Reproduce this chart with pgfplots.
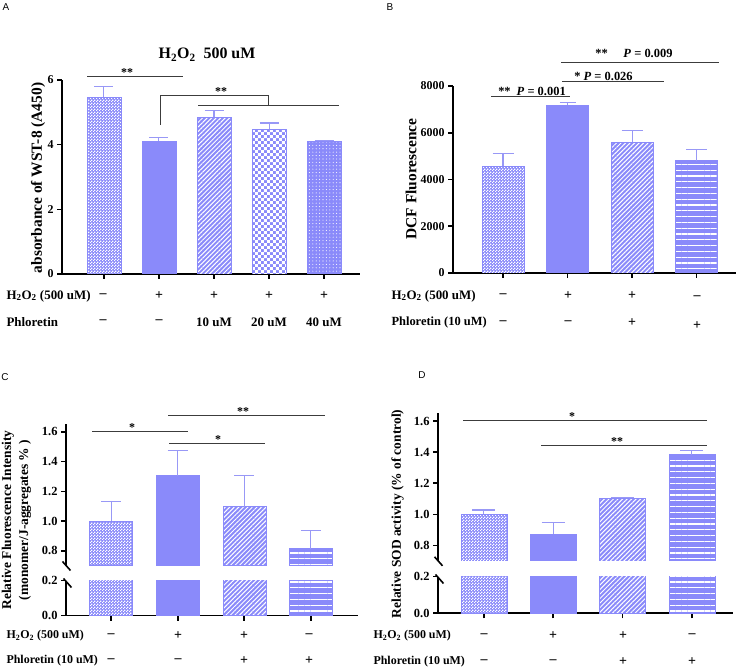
\documentclass[border=0pt]{standalone}
\usepackage{fontspec}
\setmainfont{Liberation Serif}
\newfontfamily\arial{Liberation Sans}
\usepackage{pgfplots}
\pgfplotsset{compat=1.18}
\usetikzlibrary{patterns,patterns.meta}

\definecolor{barblue}{RGB}{138,138,250}
\definecolor{errblue}{RGB}{152,152,246}
\definecolor{sig}{RGB}{60,60,60}

% bar fill patterns
\pgfdeclarepatternformonly{finecheck}{\pgfqpoint{0bp}{0bp}}{\pgfqpoint{3bp}{3bp}}{\pgfqpoint{3bp}{3bp}}{%
  \pgfpathrectangle{\pgfqpoint{0bp}{0bp}}{\pgfqpoint{1.5bp}{1.5bp}}%
  \pgfpathrectangle{\pgfqpoint{1.5bp}{1.5bp}}{\pgfqpoint{1.5bp}{1.5bp}}%
  \pgfusepath{fill}}
\pgfdeclarepatternformonly{bigcheck}{\pgfqpoint{0bp}{0bp}}{\pgfqpoint{6.4bp}{6.4bp}}{\pgfqpoint{6.4bp}{6.4bp}}{%
  \pgfpathrectangle{\pgfqpoint{0bp}{0bp}}{\pgfqpoint{3.2bp}{3.2bp}}%
  \pgfpathrectangle{\pgfqpoint{3.2bp}{3.2bp}}{\pgfqpoint{3.2bp}{3.2bp}}%
  \pgfusepath{fill}}
\pgfdeclarepatternformonly{wdots}{\pgfqpoint{-1bp}{-1bp}}{\pgfqpoint{1bp}{1bp}}{\pgfqpoint{3.4bp}{3.4bp}}{%
  \pgfpathcircle{\pgfqpoint{0bp}{0bp}}{0.55bp}%
  \pgfusepath{fill}}

\newcommand{\hh}{H\textsubscript{2}O\textsubscript{2}}
\newcommand{\fs}[1]{\bfseries\fontsize{#1}{#1}\selectfont}

\pgfplotsset{
  panel/.style={scale only axis, anchor=south west,
    axis line style={line width=1.6bp, black},
    tick style={line width=1.6bp, black},
    tick align=outside, major tick length=5bp,
    /pgf/number format/assume math mode=true,
    yticklabel style={font=\fs{12}},
    scaled y ticks=false, xticklabels={}},
  bbar/.style={ybar, bar shift=0pt, draw=barblue, fill=barblue, line width=0.5bp},
  pcheck/.style={bbar, postaction={pattern=finecheck, pattern color=white}},
  psolid/.style={bbar},
  pdiag/.style={bbar, postaction={pattern={Lines[angle=45,distance=3.2bp,line width=1bp]}, pattern color=white}},
  pbig/.style={bbar, postaction={pattern=bigcheck, pattern color=white}},
  pdots/.style={bbar, postaction={pattern=wdots, pattern color=white}},
  phor/.style={bbar, postaction={pattern={Lines[angle=0,distance=5.8bp,line width=1.1bp]}, pattern color=white}},
  eb/.style={error bars/y dir=plus, error bars/y explicit,
    error bars/error bar style={line width=1.1bp, color=errblue},
    error bars/error mark options={rotate=90, line width=1.1bp, color=errblue, mark size=#1}},
  onedec/.style={yticklabel style={/pgf/number format/fixed, /pgf/number format/fixed zerofill, /pgf/number format/precision=1}},
}

\begin{document}
\begin{tikzpicture}[x=1bp, y=1bp]
\useasboundingbox (0,0) rectangle (737,669);

% ---- A
\begin{axis}[panel, at={(62bp,395bp)}, width=298bp, height=194bp,
  axis x line*=bottom, axis y line*=left,
  xmin=-0.76, xmax=4.65, ymin=0, ymax=6, xtick={0,...,4}, ytick={0,2,4,6}, bar width=34bp]
\addplot[pcheck, eb=9.5bp] coordinates {(0,5.48) +- (0,0.33)};
\addplot[psolid, eb=9.5bp] coordinates {(1,4.10) +- (0,0.11)};
\addplot[pdiag, eb=9.5bp] coordinates {(2,4.86) +- (0,0.20)};
\addplot[pbig, eb=9.5bp] coordinates {(3,4.49) +- (0,0.18)};
\addplot[pdots, eb=9.5bp] coordinates {(4,4.12) +- (0,0.01)};
\end{axis}

% ---- B
\begin{axis}[panel, at={(453bp,396bp)}, width=283bp, height=187bp,
  axis x line*=bottom, axis y line*=left,
  xmin=-0.775, xmax=3.61, ymin=0, ymax=8000, xtick={0,...,3}, ytick={0,2000,4000,6000,8000},
  /pgf/number format/set thousands separator={}, bar width=42bp]
\addplot[pcheck, eb=10.5bp] coordinates {(0,4570) +- (0,540)};
\addplot[psolid, eb=8bp] coordinates {(1,7170) +- (0,130)};
\addplot[pdiag, eb=10.5bp] coordinates {(2,5610) +- (0,500)};
\addplot[phor, eb=10.5bp] coordinates {(3,4810) +- (0,470)};
\end{axis}

% ---- C (broken y axis)
\begin{axis}[panel, onedec, at={(66bp,53.3bp)}, width=292bp, height=35bp,
  axis x line*=bottom, axis y line*=left, yticklabel style={font=\fs{12.5}},
  xmin=-0.68, xmax=3.71, ymin=0, ymax=0.2, xtick={0,...,3}, ytick={0,0.2}, bar width=43bp]
\addplot[pcheck] coordinates {(0,1.000)};
\addplot[psolid] coordinates {(1,1.306)};
\addplot[pdiag] coordinates {(2,1.098)};
\addplot[phor] coordinates {(3,0.815)};
\end{axis}
\begin{axis}[panel, onedec, at={(66bp,103.3bp)}, width=292bp, height=141.2bp,
  axis x line=none, axis y line*=left, yticklabel style={font=\fs{12.5}},
  xmin=-0.68, xmax=3.71, ymin=0.7, ymax=1.65, ytick={0.8,1.0,1.2,1.4,1.6}, bar width=43bp]
\addplot[pcheck, eb=10bp] coordinates {(0,1.000) +- (0,0.132)};
\addplot[psolid, eb=10bp] coordinates {(1,1.306) +- (0,0.172)};
\addplot[pdiag, eb=10bp] coordinates {(2,1.098) +- (0,0.206)};
\addplot[phor, eb=10bp] coordinates {(3,0.815) +- (0,0.122)};
\end{axis}

% ---- D (broken y axis)
\begin{axis}[panel, onedec, at={(438bp,55.7bp)}, width=294.7bp, height=36.6bp,
  axis x line*=bottom, axis y line*=left, yticklabel style={font=\fs{12.5}},
  xmin=-0.66, xmax=3.59, ymin=0, ymax=0.2, xtick={0,...,3}, ytick={0,0.2}, bar width=46bp]
\addplot[pcheck] coordinates {(0,1.000)};
\addplot[psolid] coordinates {(1,0.872)};
\addplot[pdiag] coordinates {(2,1.103)};
\addplot[phor] coordinates {(3,1.383)};
\end{axis}
\begin{axis}[panel, onedec, at={(438bp,108bp)}, width=294.7bp, height=147.8bp,
  axis x line=none, axis y line*=left, yticklabel style={font=\fs{12.5}},
  xmin=-0.66, xmax=3.59, ymin=0.7, ymax=1.65, ytick={0.8,1.0,1.2,1.4,1.6}, bar width=46bp]
\addplot[pcheck, eb=11.5bp] coordinates {(0,1.000) +- (0,0.028)};
\addplot[psolid, eb=11.5bp] coordinates {(1,0.872) +- (0,0.078)};
\addplot[pdiag, eb=11.5bp] coordinates {(2,1.103) +- (0,0.006)};
\addplot[phor, eb=11.5bp] coordinates {(3,1.383) +- (0,0.027)};
\end{axis}

% ---- annotations, in image pixel coordinates (y downwards)
\begin{scope}[x=1bp, y=-1bp, shift={(0bp,669bp)}, sigl/.style={draw=sig, line width=1bp}]
% A
\node[font=\arial\fontsize{10}{12}\selectfont] at (6,7) {A};
\node[font=\fs{16}] at (207,55) {\hh\ \ 500 uM};
\node[rotate=90, font=\fs{15.5}] at (38,178) {absorbance of WST-8 (A450)};
\draw[sigl] (87,77) -- (183,77);
\node[anchor=base, font=\fs{12}] at (127,77) {**};
\draw[sigl] (160,125) -- (160,96) -- (268,96) -- (268,106);
\draw[sigl] (198,106) -- (339,106);
\node[anchor=base, font=\fs{12}] at (221,96) {**};
\node[anchor=west, font=\fs{13}] at (3,296) {\hh\ (500 uM)};
\node[anchor=west, font=\fs{13}] at (3,322) {Phloretin};
\node[font=\fs{14}] at (103,296) {\textendash};
\node[font=\fs{14}] at (159,296) {+};
\node[font=\fs{14}] at (214,296) {+};
\node[font=\fs{14}] at (269,296) {+};
\node[font=\fs{14}] at (324,296) {+};
\node[font=\fs{14}] at (103,322) {\textendash};
\node[font=\fs{14}] at (159,322) {\textendash};
\node[font=\fs{13}] at (214,322) {10 uM};
\node[font=\fs{13}] at (269,322) {20 uM};
\node[font=\fs{13}] at (324,322) {40 uM};
% B
\node[font=\arial\fontsize{10}{12}\selectfont] at (390,7) {B};
\node[rotate=90, font=\fs{15.5}] at (411,179) {DCF Fluorescence};
\draw[sigl] (491,97) -- (570,97);
\node[anchor=base, font=\fs{12.5}] at (532,95.5) {**\hspace{6bp}\textit{P} = 0.001};
\draw[sigl] (562,82) -- (664,82);
\node[anchor=base, font=\fs{12.5}] at (603.5,81) {* \textit{P} = 0.026};
\draw[sigl] (561,63) -- (719,63);
\node[anchor=base, font=\fs{12.5}] at (601.5,58) {**};
\node[anchor=base, font=\fs{12.5}] at (648,58) {\textit{P} = 0.009};
\node[anchor=west, font=\fs{13}] at (388,296) {\hh\ (500 uM)};
\node[anchor=west, font=\fs{12.5}] at (388,323) {Phloretin (10 uM)};
\node[font=\fs{14}] at (503,296) {\textendash};
\node[font=\fs{14}] at (568,296) {+};
\node[font=\fs{14}] at (632,296) {+};
\node[font=\fs{14}] at (697,298) {\textendash};
\node[font=\fs{14}] at (503,323) {\textendash};
\node[font=\fs{14}] at (568,323) {\textendash};
\node[font=\fs{14}] at (632,323) {+};
\node[font=\fs{14}] at (697,326) {+};
% C
\node[font=\arial\fontsize{10}{12}\selectfont] at (5,377) {C};
\node[rotate=90, align=center, font=\bfseries\fontsize{13.5}{17}\selectfont] at (16.5,520)
  {Relative Fluorescence Intensity\\(monomer/J-aggregates \% )};
\draw[sigl] (92,432) -- (188,432);
\node[anchor=base, font=\fs{12}] at (132,432) {*};
\draw[sigl] (168,416) -- (325,416);
\node[anchor=base, font=\fs{12}] at (243,416) {**};
\draw[sigl] (169,444) -- (265,444);
\node[anchor=base, font=\fs{12}] at (218,444) {*};
\draw[line width=1.6bp] (62.5,561.5) -- (70.5,570.5);
\draw[line width=1.6bp] (63.5,578.5) -- (71.5,587.5);
\node[anchor=west, font=\fs{12}] at (3,636) {\hh\ (500 uM)};
\node[anchor=west, font=\fs{12}] at (3,661) {Phloretin (10 uM)};
\node[font=\fs{14}] at (111,636) {\textendash};
\node[font=\fs{14}] at (178,636) {+};
\node[font=\fs{14}] at (244,636) {+};
\node[font=\fs{14}] at (309,636) {\textendash};
\node[font=\fs{14}] at (111,661) {\textendash};
\node[font=\fs{14}] at (178,661) {\textendash};
\node[font=\fs{14}] at (244,661) {+};
\node[font=\fs{14}] at (309,661) {+};
% D
\node[font=\arial\fontsize{10}{12}\selectfont] at (422,375) {D};
\node[rotate=90, font=\fs{13.5}] at (397.5,514) {Relative SOD activity (\% of control)};
\draw[sigl] (463,420.7) -- (707,420.7);
\node[anchor=base, font=\fs{12}] at (572,420.7) {*};
\draw[sigl] (541,446) -- (707,446);
\node[anchor=base, font=\fs{12}] at (617,446) {**};
\draw[line width=1.6bp] (434.5,556.8) -- (442.5,565.8);
\draw[line width=1.6bp] (435.5,574.5) -- (443.5,583.5);
\node[anchor=west, font=\fs{12}] at (370,636) {\hh\ (500 uM)};
\node[anchor=west, font=\fs{12}] at (370,662) {Phloretin (10 uM)};
\node[font=\fs{14}] at (484,636) {\textendash};
\node[font=\fs{14}] at (553,636) {+};
\node[font=\fs{14}] at (623,636) {+};
\node[font=\fs{14}] at (692,636) {\textendash};
\node[font=\fs{14}] at (484,662) {\textendash};
\node[font=\fs{14}] at (553,662) {\textendash};
\node[font=\fs{14}] at (623,662) {+};
\node[font=\fs{14}] at (692,662) {+};
\end{scope}
\end{tikzpicture}
\end{document}
